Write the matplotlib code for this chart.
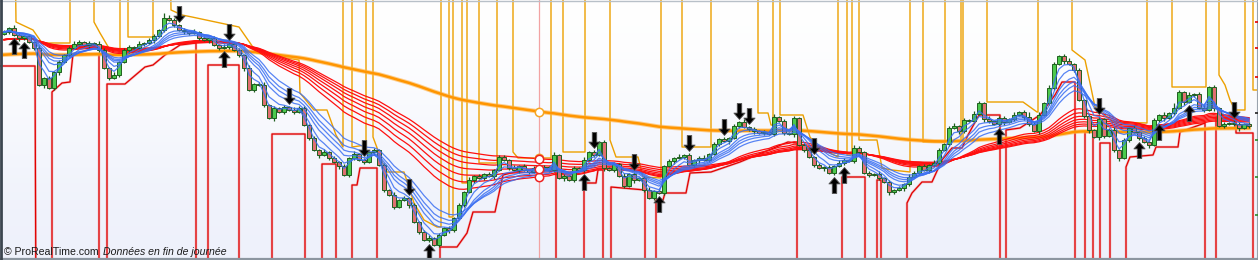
import numpy as np
import matplotlib.pyplot as plt
from matplotlib.path import Path
from matplotlib.colors import LinearSegmentedColormap

plt.rcParams['font.family'] = ['Liberation Sans', 'DejaVu Sans']

# daily closes, one per bar
closes = [
    228, 232, 225, 222, 224, 218, 212, 175, 182, 172,
    188, 198, 205, 212, 216, 218, 215, 217, 216, 210,
    192, 182, 185, 198, 210, 213, 212, 216, 217, 220,
    224, 230, 242, 240, 235, 230, 229, 227, 228, 222,
    220, 222, 215, 212, 213, 216, 210, 205, 192, 170,
    176, 175, 155, 142, 152, 148, 153, 150, 148, 152,
    135, 122, 110, 105, 108, 102, 98, 94, 85, 102,
    106, 100, 98, 108, 110, 95, 70, 65, 53, 60,
    62, 55, 38, 28, 20, 22, 15, 25, 32, 30,
    42, 55, 68, 80, 84, 82, 86, 84, 90, 103,
    100, 92, 90, 94, 90, 88, 92, 90, 93, 90,
    105, 82, 84, 80, 92, 90, 100, 108, 105, 118,
    92, 90, 96, 84, 74, 86, 80, 82, 70, 62,
    69, 67, 94, 99, 102, 103, 105, 95, 100, 102,
    100, 106, 116, 121, 119, 122, 134, 138, 133, 131,
    129, 127, 128, 126, 143, 139, 127, 126, 142, 115,
    110, 103, 95, 92, 93, 87, 94, 97, 100, 99,
    112, 108, 87, 85, 86, 82, 78, 68, 70, 72,
    76, 83, 87, 94, 90, 95, 97, 110, 116, 132,
    134, 129, 140, 139, 146, 157, 141, 139, 136, 142,
    138, 141, 145, 148, 143, 136, 129, 145, 157, 172,
    196, 204, 199, 196, 190, 160, 144, 130, 123, 141,
    124, 130, 110, 102, 120, 132, 128, 122, 118, 115,
    140, 145, 142, 147, 152, 168, 158, 165, 166, 152,
    150, 173, 152, 134, 136, 137, 136, 132, 136, 134,
]
first_open = 226
# wick lengths above / below the body, one digit per bar
upper_wicks = ("2132121312" "1212321213" "2131221312" "2153212131" "2121321213"
               "1231212132" "2121312121" "3121212131" "2121231212" "1213121212"
               "2131212121" "3121213121" "2121312123" "1212131212" "3121212131"
               "2121312121" "2312121321" "3212131212" "1321213212" "3121321312"
               "2131252313" "2123121213" "1231213121" "2131521312" "3121213212")
lower_wicks = ("1213212131" "2312121312" "1212132121" "3121213212" "1312121231"
               "2121312121" "1213121312" "2121312121" "1312121213" "2121312131"
               "1213121212" "2131212121" "3121213121" "2121312123" "1212131212"
               "3121212131" "2121312121" "2312121321" "3212131212" "1321213212"
               "3121321312" "2131212313" "2123121213" "1231213121" "2131212312")

short_periods = [3, 5, 8, 10, 12, 15]
long_periods = [30, 35, 40, 45, 50, 55, 60]
long_seed = 220
trend_period = 170
trend_seed = 205

up_signals = [2, 4, 44, 85, 116, 131, 166, 168, 199, 227, 231, 237]
down_signals = [35, 45, 57, 72, 81, 118, 126, 137, 144, 147, 149, 162, 219, 246]
cursor_bar = 107

T = 320   # off the chart, above
B = -60   # off the chart, below
resist = [
    (0, T), (2.2, T), (2.4, 238), (5.8, 230), (7.6, 217), (13.2, 217), (13.2, T),
    (18, T), (18, 238), (19.2, 227), (21.2, 210), (23.2, 210), (23.2, T),
    (24.8, T), (24.8, 223), (29.8, 223), (29.8, T),
    (33.2, T), (33.4, 250), (35.6, 245), (37.6, 243), (47, 233), (50.6, 207),
    (59, 200), (59.2, 167), (62, 150), (64.6, 150), (66.4, 125), (67.8, 113), (67.8, T),
    (69.6, T), (69.6, 113), (72.4, 115), (72.4, T),
    (73.8, T), (73.8, 123), (76.4, 88), (80, 88), (82, 57), (84, 40), (86.6, 33),
    (87.4, 33), (87.4, T),
    (89, T), (89, 43), (89.8, 43), (89.8, T),
    (91.6, T), (91.6, 77), (92.6, 77), (92.6, T),
    (95, T), (95, 97), (98.6, 97), (98.6, T),
    (101.8, T), (101.8, 108), (102.8, 102), (109.4, 102), (109.4, T),
    (111.8, T), (111.8, 108), (116.2, 108), (116.2, T),
    (121.2, T), (121.2, 120), (122.4, 103), (126.8, 103), (127.8, 83), (131.4, 82), (131.4, T),
    (135.6, T), (135.6, 113), (141.4, 113), (141.4, T),
    (150.8, T), (150.8, 147), (152.8, 147), (153.4, 135), (153.8, 135), (153.8, T),
    (155.2, T), (155.2, 145), (159.8, 145), (161.2, 123), (162.8, 113), (166.8, 103), (166.8, T),
    (168.6, T), (168.6, 105), (169.6, 105), (169.6, T),
    (171, T), (171, 120), (174.6, 120), (175.6, 92), (177.6, 90), (181.2, 88), (181.2, T),
    (183.8, T), (183.8, 118), (188.2, 118), (188.2, T),
    (191.4, T), (191.4, 120), (191.8, 120), (191.8, T),
    (196.6, T), (196.6, 158), (203.8, 158), (206.6, 148), (206.8, 148), (206.8, T),
    (213.6, T), (213.6, 210), (216.2, 200), (217.2, 177), (218.2, 153), (221.8, 138),
    (228.6, 137), (228.6, T),
    (233.6, T), (233.6, 173), (240.4, 173), (240.4, T),
    (243, T), (243, 185), (244.2, 175), (245.2, 160), (246.2, 150), (248.2, 150), (248.2, T),
    (249.8, T), (249.8, 170), (250.8, 170),
]
support = [
    (-0.8, 194), (6.2, 194), (6.4, B), (9.6, B), (9.6, 168), (11.6, 177), (13.2, 178),
    (13.8, 206), (19, 206), (19, B),
    (20.6, B), (20.6, 176), (24.2, 176), (28.2, 193), (29.8, 195), (32.2, 205), (35.2, 215),
    (38.4, 217), (38.4, B),
    (40.8, B), (40.8, 195), (47, 195), (47, B),
    (53.6, B), (53.6, 126), (60.2, 126), (60.2, B),
    (63.6, B), (63.6, 96), (66.4, 96), (66.4, B),
    (69.6, B), (69.6, 75), (70.6, 75), (71.2, 92), (74.6, 92), (74.6, B),
    (87.2, B), (87.2, 13), (90.6, 13), (92.6, 27), (93.8, 48), (98.2, 48), (99.8, 85),
    (102.2, 88), (107.2, 92), (110.4, 92), (110.4, B),
    (116, B), (116, 77), (118.4, 77), (118.8, 90), (119.8, 90), (119.8, B),
    (121.4, B), (121.4, 73), (128.2, 70), (128.2, B),
    (130.4, B), (130.4, 60), (131.8, 60), (132.2, 67), (136.4, 67), (137.2, 87), (141.4, 88),
    (147.2, 98), (156.8, 118), (158.6, 117), (158.6, B),
    (167.6, B), (167.6, 83), (172.2, 83), (172.2, B),
    (174.6, B), (174.6, 80), (175.4, 80), (175.4, B),
    (180.6, B), (180.6, 57), (181.6, 67), (183.6, 78), (185.6, 78), (187.6, 100), (189.6, 112),
    (191.6, 112), (192.8, 125), (195, 145), (199.2, 145), (199.2, B),
    (200.4, B), (200.4, 130), (203.2, 132), (207.2, 145), (210.2, 165), (211.6, 178),
    (214.2, 178), (214.2, B),
    (216.2, B), (216.2, 128), (217.8, 128), (217.8, B),
    (219.2, B), (219.2, 117), (221.2, 117), (221.2, B),
    (224.4, B), (224.4, 93), (225.2, 103), (229.8, 105), (230.4, 113), (234.8, 113),
    (235.2, 128), (240.2, 137), (240.2, B),
    (242.4, B), (242.4, 142), (246.4, 142), (246.4, 127), (249.8, 127), (249.8, B), (250.8, B),
]
axis_ticks = [238, 212, 183, 147, 120, 83, 45]
axis_tick_colors = ['#e00000', '#e00000', '#e00000', '#222222', '#2a8a2a', '#2a8a2a', '#2a8a2a']


def ema(values, period, seed=None):
    alpha = 2.0 / (period + 1)
    prev = values[0] if seed is None else seed
    out = []
    for v in values:
        prev = prev + alpha * (v - prev)
        out.append(prev)
    return np.array(out)


closes_arr = np.array(closes, dtype=float)
opens_arr = np.concatenate([[first_open], closes_arr[:-1]])
highs = np.maximum(opens_arr, closes_arr) + np.array([int(c) for c in upper_wicks])
lows = np.minimum(opens_arr, closes_arr) - np.array([int(c) for c in lower_wicks])
bars = np.arange(len(closes))

fig = plt.figure(figsize=(12.58, 2.60), dpi=100)
ax = fig.add_axes([0, 0, 1, 1])
ax.set_xlim(-0.8, 250.8)
ax.set_ylim(0, 260)
ax.set_axis_off()

bg = LinearSegmentedColormap.from_list('bg', ['#eef1fb', '#ffffff'])
ax.imshow([[1.0], [0.0]], extent=[-0.8, 250.8, 0, 260], aspect='auto', cmap=bg,
          interpolation='bicubic', zorder=0)

# cursor line
ax.axvline(cursor_bar, color='#f2a3a3', lw=0.9, zorder=1)

# channel lines
rx, ry = zip(*resist)
ax.plot(rx, ry, color='#eca000', lw=1.0, zorder=1.5)
sx, sy = zip(*support)
ax.plot(sx, sy, color='#f07a7a', lw=1.8, alpha=0.5, zorder=1.4)
ax.plot(sx, sy, color='#e00000', lw=0.9, zorder=1.5)

# trend and long ribbon
trend = ema(closes_arr, trend_period, trend_seed)
ax.plot(bars, trend, color='#ffb347', lw=3.2, alpha=0.6, zorder=2)
ax.plot(bars, trend, color='#ff9500', lw=1.8, zorder=2)
long_lines = [ema(closes_arr, p, long_seed) for p in long_periods]
for line in long_lines:
    ax.plot(bars, line, color='#ff1010', lw=0.9, zorder=2.2)

# candles
up = closes_arr >= opens_arr
ax.vlines(bars, lows, highs, color='#1f5f1f', lw=0.9, zorder=3)
body_lo = np.minimum(opens_arr, closes_arr)
body_h = np.maximum(np.abs(closes_arr - opens_arr), 1.0)
ax.bar(bars, body_h, bottom=body_lo, width=0.68,
       color=np.where(up, '#4cc94c', '#e07070'), edgecolor='#1f5f1f', linewidth=0.7, zorder=3.2)

# short ribbon
for p in short_periods:
    ax.plot(bars, ema(closes_arr, p), color='#3b6ff2', lw=0.9, alpha=0.85, zorder=4)

# signal arrows
arrow = Path([(0, 1), (-0.7, 0.2), (-0.28, 0.2), (-0.28, -1), (0.28, -1), (0.28, 0.2), (0.7, 0.2), (0, 1)],
             [Path.MOVETO] + [Path.LINETO] * 6 + [Path.CLOSEPOLY])
down_arrow = Path(arrow.vertices * [1, -1], arrow.codes)
ax.plot(up_signals, lows[up_signals] - 10, ls='none', marker=arrow, ms=11.5,
        mfc='#000000', mec='#555555', mew=0.6, zorder=6)
ax.plot(down_signals, highs[down_signals] + 10, ls='none', marker=down_arrow, ms=11.5,
        mfc='#000000', mec='#555555', mew=0.6, zorder=6)

# cursor readings
ax.plot([cursor_bar, cursor_bar], [trend[cursor_bar], np.interp(cursor_bar, rx, ry)], ls='none',
        marker='o', ms=6, mfc='white', mec='#f5a623', mew=1.1, zorder=7)
ax.plot([cursor_bar] * 3, [long_lines[0][cursor_bar], long_lines[3][cursor_bar], long_lines[6][cursor_bar]],
        ls='none', marker='o', ms=6, mfc='white', mec='#ee2020', mew=1.1, zorder=7)

# right price axis
ax.axvline(250.5, color='#9aa3ad', lw=0.8, zorder=8)
ax.scatter([250.7] * len(axis_ticks), axis_ticks, marker='_', s=12, c=axis_tick_colors, lw=1.2, zorder=8)

# frame
ax.axhline(259.5, color='#b8c0c8', lw=1.0, zorder=8)
ax.axhline(0.8, color='#8c96a0', lw=1.6, zorder=8)
ax.axvline(-0.65, color='#3c4650', lw=2.0, zorder=8)

ax.text(0.003, 0.012, '\u00a9 ProRealTime.com', transform=ax.transAxes, fontsize=7.6,
        color='#1a1a1a', va='bottom', zorder=9)
ax.text(0.0815, 0.012, 'Donn\u00e9es en fin de journ\u00e9e', transform=ax.transAxes, fontsize=7.6,
        style='italic', color='#1a1a1a', va='bottom', zorder=9)

fig.savefig('out.png', dpi=100)
